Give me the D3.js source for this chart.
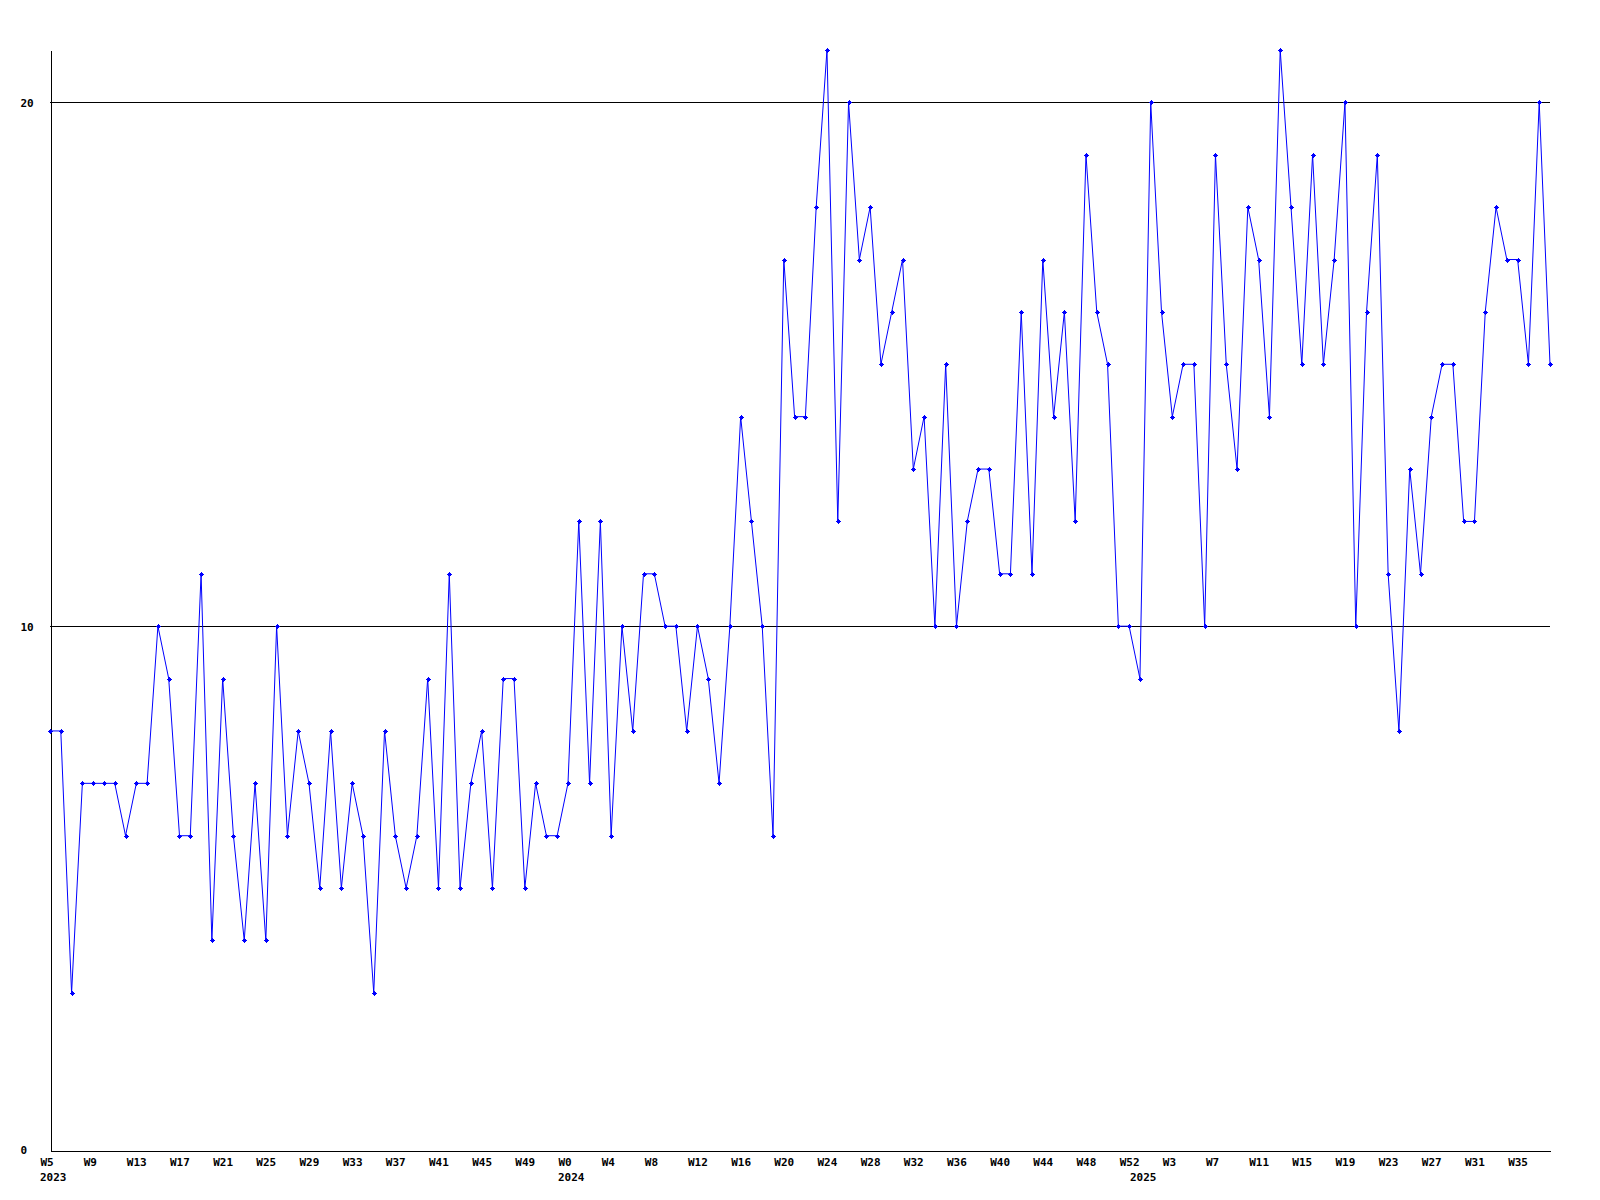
<!DOCTYPE html>
<html>
<head>
<meta charset="utf-8">
<script src="https://cdn.jsdelivr.net/npm/d3@7"></script>
<style>
  body { margin: 0; background: #fff; }
  svg { display: block; }
  .axis text { font-family: "DejaVu Sans Mono", monospace; font-size: 11px; font-weight: bold; fill: #000; }
  .axis path { stroke: #000; }
</style>
</head>
<body>
<script>
const width = 1600;
const height = 1200;
const plotLeft = 50, plotRight = 1550, plotTop = 50, plotBottom = 1150;

// weeks per year (category axis)
const weeks2023 = d3.range(5, 53);
const weeks2024 = d3.range(0, 53);
const weeks2025 = d3.range(0, 39);

// weekly values
const values2023 = [8, 8, 3, 7, 7, 7, 7, 6, 7, 7, 10, 9, 6, 6, 11, 4, 9, 6, 4, 7, 4, 10, 6, 8,
  7, 5, 8, 5, 7, 6, 3, 8, 6, 5, 6, 9, 5, 11, 5, 7, 8, 5, 9, 9, 5, 7, 6, 6];
const values2024 = [7, 12, 7, 12, 6, 10, 8, 11, 11, 10, 10, 8, 10, 9, 7, 10, 14, 12, 10, 6, 17,
  14, 14, 18, 21, 12, 20, 17, 18, 15, 16, 17, 13, 14, 10, 15, 10, 12, 13, 13, 11, 11, 16, 11,
  17, 14, 16, 12, 19, 16, 15, 10, 10];
const values2025 = [9, 20, 16, 14, 15, 15, 10, 19, 15, 13, 18, 17, 14, 21, 18, 15, 19, 15, 17,
  20, 10, 16, 19, 11, 8, 13, 11, 14, 15, 15, 12, 12, 16, 18, 17, 17, 15, 20, 15];

const yTicks = [0, 10, 20];

let points = [];
[[2023, weeks2023, values2023], [2024, weeks2024, values2024], [2025, weeks2025, values2025]]
  .forEach(([year, weeks, vals]) => {
    weeks.forEach((w, i) => {
      points.push({ key: year + "-W" + w, year: year, week: w, value: vals[i], first: i === 0 });
    });
  });

const svg = d3.select("body").append("svg")
  .attr("width", width)
  .attr("height", height);

const xScale = d3.scalePoint()
  .domain(points.map(d => d.key))
  .range([plotLeft, plotRight]);

const yScale = d3.scaleLinear()
  .domain([0, 21])
  .range([plotBottom, plotTop]);

// grid lines at 10 and 20
svg.selectAll("line.grid")
  .data(yTicks.filter(t => t > 0))
  .enter()
  .append("line")
  .attr("class", "grid")
  .attr("x1", plotLeft)
  .attr("x2", plotRight)
  .attr("y1", d => Math.round(yScale(d)) + 0.5)
  .attr("y2", d => Math.round(yScale(d)) + 0.5)
  .attr("stroke", "#000")
  .attr("shape-rendering", "crispEdges");

const yAxis = svg.append("g")
  .attr("class", "axis")
  .attr("transform", "translate(" + (plotLeft + 0.5) + ",0)")
  .call(d3.axisLeft(yScale).tickValues(yTicks).tickSize(0).tickSizeOuter(0).tickFormat(d3.format("d")));
yAxis.select(".domain").attr("shape-rendering", "crispEdges");
yAxis.selectAll("text")
  .attr("text-anchor", "start")
  .attr("x", -30)
  .attr("dy", "0.35em");

const tickKeys = points.filter((d, i) => i % 4 === 0).map(d => d.key);
const xAxis = svg.append("g")
  .attr("class", "axis")
  .attr("transform", "translate(0," + (plotBottom + 0.5) + ")")
  .call(d3.axisBottom(xScale).tickValues(tickKeys).tickSize(0).tickSizeOuter(0)
    .tickFormat(k => "W" + k.split("-W")[1]));
xAxis.select(".domain").attr("shape-rendering", "crispEdges");
xAxis.selectAll("text")
  .attr("text-anchor", "start")
  .attr("x", -10)
  .attr("y", 12)
  .attr("dy", "0.35em");

// year labels under the first week of each year
xAxis.selectAll("text.year")
  .data(points.filter(d => d.first))
  .enter()
  .append("text")
  .attr("class", "year")
  .attr("text-anchor", "start")
  .attr("x", d => xScale(d.key) - 10)
  .attr("y", 27)
  .attr("dy", "0.35em")
  .text(d => d.year);

const line = d3.line()
  .x(d => xScale(d.key))
  .y(d => yScale(d.value));

svg.append("path")
  .datum(points)
  .attr("d", line)
  .attr("fill", "none")
  .attr("stroke", "#0000ff")
  .attr("stroke-width", 1);

// small cross markers
svg.selectAll("path.marker")
  .data(points)
  .enter()
  .append("path")
  .attr("class", "marker")
  .attr("transform", d => "translate(" + Math.round(xScale(d.key)) + "," + Math.round(yScale(d.value)) + ")")
  .attr("d", "M-2.5,-0.5h5v1h-5z M-0.5,-2.5h1v5h-1z M-1.5,-1.5h3v3h-3z")
  .attr("fill", "#0000ff")
  .attr("shape-rendering", "crispEdges");
</script>
</body>
</html>
